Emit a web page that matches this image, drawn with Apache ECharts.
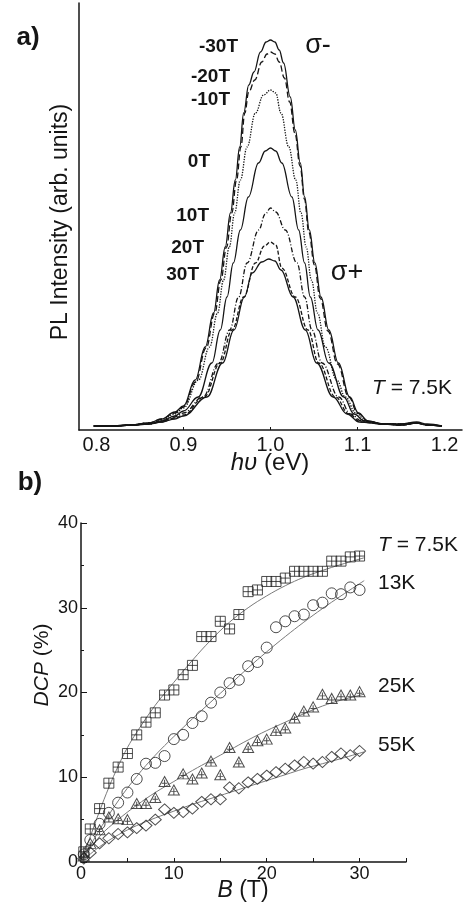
<!DOCTYPE html>
<html lang="en">
<head>
    <meta charset="UTF-8">
    <title>PL / DCP</title>
    <script src="https://cdn.jsdelivr.net/npm/echarts@6/dist/echarts.min.js"></script>
    <style>
        html, body { margin: 0; padding: 0; background: #fff; }
        #main { width: 466px; height: 910px; }
    </style>
</head>
<body>
<div id="main"></div>
<script>
    // ---- panel a: PL spectra [photon energy (eV), intensity (arb.)]
    var fieldLabels = ['-30T', '-20T', '-10T', '0T', '10T', '20T', '30T'];

    var plM30 = [[0.797,4],[0.82,4],[0.84,5],[0.86,7],[0.875,11],[0.89,18],[0.90,24],[0.9135,50],[0.925,83],[0.9346,117],[0.9415,150],[0.948,183],[0.954,217],[0.9596,250],[0.9646,283],[0.9692,317],[0.975,345],[0.981,358],[0.9885,378],[0.995,388],[1.0,390],[1.005,388],[1.01,380],[1.015,367],[1.0227,333],[1.0285,300],[1.0342,267],[1.0392,233],[1.0446,200],[1.051,167],[1.058,133],[1.067,100],[1.078,67],[1.091,33],[1.101,17],[1.112,9],[1.13,6],[1.15,6],[1.168,8],[1.18,6],[1.197,4]];
    var plM20 = [[0.797,4],[0.82,4],[0.84,5],[0.86,7],[0.875,11],[0.89,17],[0.90,23],[0.914,48],[0.926,82],[0.936,117],[0.943,150],[0.9495,183],[0.9555,217],[0.961,250],[0.966,283],[0.9705,317],[0.975,338],[0.982,350],[0.99,368],[0.996,376],[1.0,378],[1.005,376],[1.01,368],[1.016,352],[1.022,328],[1.028,297],[1.034,264],[1.039,231],[1.044,198],[1.0505,165],[1.057,132],[1.066,99],[1.077,66],[1.090,33],[1.100,17],[1.112,9],[1.13,6],[1.15,6],[1.168,7],[1.18,5],[1.197,4]];
    var plM10 = [[0.797,4],[0.82,4],[0.84,5],[0.86,7],[0.875,10],[0.89,16],[0.90,22],[0.9173,50],[0.93,83],[0.9392,117],[0.9461,150],[0.9527,183],[0.9588,217],[0.9654,250],[0.9731,283],[0.9827,317],[0.992,335],[1.0,340],[1.006,337],[1.012,317],[1.021,283],[1.029,250],[1.035,217],[1.041,183],[1.047,150],[1.054,117],[1.063,83],[1.076,50],[1.086,33],[1.098,17],[1.11,9],[1.13,6],[1.15,6],[1.168,7],[1.18,5],[1.197,4]];
    var pl0 = [[0.797,4],[0.82,4],[0.84,5],[0.86,6],[0.875,9],[0.89,14],[0.90,19],[0.9169,33],[0.9327,67],[0.9423,100],[0.95,133],[0.9573,167],[0.9654,200],[0.9746,233],[0.9862,267],[0.994,279],[1.0,282],[1.006,279],[1.013,267],[1.0246,233],[1.0323,200],[1.0392,167],[1.0458,133],[1.0546,100],[1.0669,67],[1.0842,33],[1.096,16],[1.108,9],[1.13,6],[1.15,5],[1.168,7],[1.18,5],[1.197,4]];
    var plP10 = [[0.797,4],[0.82,4],[0.84,5],[0.86,6],[0.875,9],[0.89,13],[0.90,17],[0.9224,33],[0.9404,67],[0.9531,100],[0.9634,133],[0.9731,167],[0.9865,200],[0.994,216],[1.0,222],[1.006,218],[1.017,200],[1.0304,167],[1.0392,133],[1.0476,100],[1.0592,67],[1.0784,33],[1.092,16],[1.105,9],[1.13,6],[1.15,5],[1.168,7],[1.18,5],[1.197,4]];
    var plP20 = [[0.797,4],[0.82,4],[0.84,5],[0.86,6],[0.875,8],[0.89,12],[0.90,15],[0.9239,33],[0.9423,67],[0.9558,100],[0.9692,133],[0.9827,167],[0.993,184],[1.0,188],[1.006,185],[1.013,162],[1.0285,133],[1.043,100],[1.0554,67],[1.0746,33],[1.09,16],[1.104,8],[1.13,6],[1.15,5],[1.168,7],[1.18,5],[1.197,4]];
    var plP30 = [[0.797,4],[0.82,4],[0.84,5],[0.86,6],[0.875,8],[0.89,11],[0.90,14],[0.927,33],[0.945,67],[0.958,100],[0.97,133],[0.979,157],[0.99,168],[0.998,171],[1.005,169],[1.012,160],[1.026,133],[1.04,100],[1.053,67],[1.072,33],[1.088,16],[1.102,8],[1.13,6],[1.15,5],[1.168,7],[1.18,5],[1.197,4]];

    var plTicks = [0.9, 1.0, 1.1];
    var plLabels = [0.8, 0.9, 1.0, 1.1, 1.2];

    // ---- panel b: DCP (%) vs B (T)
    var fieldB = [0.3,1,2,3,4,5,6,7,8,9,10,11,12,13,14,15,16,17,18,19,20,21,22,23,24,25,26,27,28,29,30];
    var dcp75 = [1.2,3.9,6.3,9.3,11.2,12.8,15.0,16.5,17.6,19.7,20.3,22.1,23.2,26.6,26.6,28.4,27.5,29.2,31.9,32.1,33.1,33.1,33.5,34.3,34.3,34.3,34.3,35.5,35.5,36.0,36.1];
    var dcp13 = [0.9,2.6,4.5,5.8,7.0,8.2,9.8,11.6,11.7,12.5,14.5,15.0,16.4,17.2,18.8,20.0,21.1,21.5,23.1,23.6,25.3,27.7,28.4,29.0,29.2,30.3,30.6,31.7,31.6,32.4,32.1];
    var dcp25 = [0.7,2.2,3.8,5.3,5.1,5.0,6.9,6.9,7.6,9.5,8.5,10.4,9.8,10.5,11.9,10.3,13.5,11.8,13.5,14.3,14.5,15.5,15.8,17.0,17.8,18.3,19.8,19.3,19.7,19.7,20.1];
    var dcp55 = [0.4,1.1,2.2,2.8,3.3,3.5,4.0,4.3,5.0,6.2,5.8,5.9,6.3,7.1,7.4,7.4,8.8,8.7,9.4,9.8,10.2,10.6,11.0,11.4,11.8,11.6,11.8,12.4,12.8,12.6,13.1];

    // fitted curves
    var fit75 = [[0,0],[1,3],[2,6],[3,8.8],[4,11.3],[5,13.5],[6,15.3],[8,18.5],[10,21.2],[12,23.8],[14,26.2],[16,28.3],[18,30],[20,31.4],[22,32.6],[24,33.6],[26,34.4],[28,35.1],[30.5,35.9]];
    var fit13 = [[0,0],[2,3.8],[4,7.2],[6,10.1],[8,12.6],[10,14.8],[12,16.9],[14,18.9],[16,20.9],[18,22.9],[20,24.8],[22,26.6],[24,28.3],[26,29.9],[28,31.4],[30.5,33.2]];
    var fit25 = [[0,0],[2,3],[4,5],[6,6.7],[8,8.2],[10,9.5],[12,10.8],[14,12],[16,13.2],[18,14.4],[20,15.5],[22,16.5],[24,17.5],[26,18.4],[28,19.1],[30.5,19.8]];
    var fit55 = [[0,0],[2,1.8],[4,3.2],[6,4.3],[8,5.2],[10,6],[12,6.8],[14,7.5],[16,8.2],[18,8.9],[20,9.6],[22,10.3],[24,11],[26,11.6],[28,12.2],[30.5,13]];

    var bTicks = [0, 5, 10, 15, 20, 25, 30, 35];
    var bLabels = [0, 10, 20, 30];

    var FONT = '"Liberation Sans", Arial, sans-serif';
    var INK = '#151515';

    var plCurves = [plM30, plM20, plM10, pl0, plP10, plP20, plP30];
    var plDash = ['solid', [6, 3], 'dotted', 'solid', [5, 2, 1, 2], [4, 2], 'solid'];

    var series = [];
    plCurves.forEach(function (c, i) {
        series.push({
            name: fieldLabels[i],
            type: 'line',
            xAxisIndex: 0,
            yAxisIndex: 0,
            data: c,
            smooth: 0.4,
            smoothMonotone: 'x',
            showSymbol: false,
            lineStyle: { color: INK, width: 1.3, type: plDash[i] }
        });
    });

    [fit75, fit13, fit25, fit55].forEach(function (f) {
        series.push({
            type: 'line',
            xAxisIndex: 1,
            yAxisIndex: 1,
            data: f,
            smooth: 0.4,
            showSymbol: false,
            z: 1,
            lineStyle: { color: '#7a7a7a', width: 1 }
        });
    });

    function pts(arr) {
        return fieldB.map(function (b, i) { return [b, arr[i]]; });
    }

    var hollow = { color: 'rgba(0,0,0,0)', borderColor: '#222', borderWidth: 1 };
    var markers = [
        { d: dcp75, sym: 'path://M0,0H10V10H0Z M5,0V10 M0,5H10', size: 10 },
        { d: dcp13, sym: 'circle', size: 11 },
        { d: dcp25, sym: 'path://M5,0L10,9H0Z M5,3V9 M2.5,6H7.5', size: [11, 10] },
        { d: dcp55, sym: 'diamond', size: [12, 11] }
    ];
    markers.forEach(function (m) {
        series.push({
            type: 'scatter',
            xAxisIndex: 1,
            yAxisIndex: 1,
            data: pts(m.d),
            symbol: m.sym,
            symbolSize: m.size,
            itemStyle: hollow,
            z: 3
        });
    });

    function txt(x, y, text, size, opt) {
        opt = opt || {};
        return {
            type: 'text',
            x: x,
            y: y,
            rotation: opt.rot || 0,
            style: {
                text: text,
                fontSize: size,
                fontFamily: FONT,
                fontWeight: opt.bold ? 'bold' : 'normal',
                fill: INK,
                textAlign: opt.align || 'center',
                textVerticalAlign: 'middle',
                rich: {
                    i: { fontStyle: 'italic', fontSize: size, fontFamily: FONT, fill: INK }
                }
            }
        };
    }

    var graphics = [
        txt(28, 38, 'a)', 26, { bold: true }),
        txt(30, 483, 'b)', 26, { bold: true }),
        txt(238, 47, '-30T', 19, { bold: true, align: 'right' }),
        txt(230, 77, '-20T', 19, { bold: true, align: 'right' }),
        txt(230, 100, '-10T', 19, { bold: true, align: 'right' }),
        txt(210, 162, '0T', 19, { bold: true, align: 'right' }),
        txt(209, 216, '10T', 19, { bold: true, align: 'right' }),
        txt(204, 248, '20T', 19, { bold: true, align: 'right' }),
        txt(199, 275, '30T', 19, { bold: true, align: 'right' }),
        txt(318, 46, 'σ-', 27),
        txt(347, 273, 'σ+', 27),
        txt(412, 388, '{i|T} = 7.5K', 21),
        txt(61, 222, 'PL Intensity (arb. units)', 23, { rot: Math.PI / 2 }),
        txt(270, 463, '{i|hυ} (eV)', 24),
        txt(42, 665, '{i|DCP} (%)', 21, { rot: Math.PI / 2 }),
        txt(243, 891, '{i|B} (T)', 23),
        txt(378, 545, '{i|T} = 7.5K', 21, { align: 'left' }),
        txt(378, 583, '13K', 21, { align: 'left' }),
        txt(378, 686, '25K', 21, { align: 'left' }),
        txt(378, 745, '55K', 21, { align: 'left' })
    ];

    var axisLine = { show: true, onZero: false, lineStyle: { color: INK, width: 1.5 } };

    var option = {
        animation: false,
        backgroundColor: '#fff',
        grid: [
            { left: 79, top: 3, width: 383, height: 427 },
            { left: 81, top: 523, width: 325, height: 339 }
        ],
        xAxis: [
            {
                type: 'value', gridIndex: 0, min: 0.78, max: 1.22,
                axisLine: axisLine,
                axisTick: { show: true, inside: true, length: 3, customValues: plTicks, lineStyle: { color: INK } },
                axisLabel: {
                    customValues: plLabels, margin: 5, fontSize: 20, color: INK, fontFamily: FONT,
                    formatter: function (v) { return v.toFixed(1); }
                },
                splitLine: { show: false }
            },
            {
                type: 'value', gridIndex: 1, min: 0, max: 35,
                axisLine: axisLine,
                axisTick: { show: true, inside: true, length: 4, customValues: bTicks, lineStyle: { color: INK } },
                axisLabel: { customValues: bLabels, margin: 3, fontSize: 18, color: INK, fontFamily: FONT },
                splitLine: { show: false }
            }
        ],
        yAxis: [
            {
                type: 'value', gridIndex: 0, min: 0, max: 427,
                axisLine: axisLine,
                axisTick: { show: false },
                axisLabel: { show: false },
                splitLine: { show: false }
            },
            {
                type: 'value', gridIndex: 1, min: 0, max: 40, interval: 10,
                axisLine: axisLine,
                axisTick: { show: true, inside: true, length: 6, lineStyle: { color: INK } },
                minorTick: { show: true, splitNumber: 2, length: 3, lineStyle: { color: INK } },
                axisLabel: { margin: 3, fontSize: 18, color: INK, fontFamily: FONT },
                splitLine: { show: false }
            }
        ],
        series: series,
        graphic: graphics
    };

    var myChart = echarts.init(document.getElementById('main'));
    myChart.setOption(option);
</script>
</body>
</html>
